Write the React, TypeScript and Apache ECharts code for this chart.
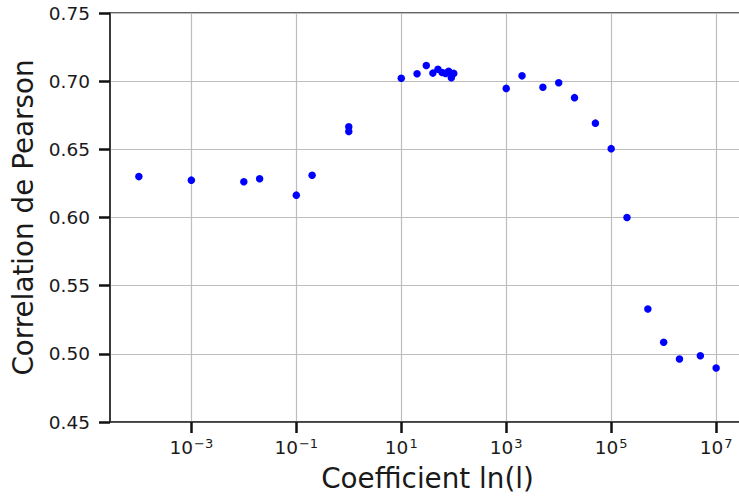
import React, { useEffect, useRef } from "react";
import * as echarts from "echarts";

// Coefficient l (x, log scale) and Pearson correlation (y)
const coefficients: number[] = [
  1e-4, 1e-3, 1e-2, 2e-2, 0.1, 0.2, 1, 1, 10, 20, 30, 40, 50, 60, 70, 80, 90, 100,
  1000, 2000, 5000, 1e4, 2e4, 5e4, 1e5, 2e5, 5e5, 1e6, 2e6, 5e6, 1e7,
];
const correlations: number[] = [
  0.63, 0.6274, 0.6262, 0.6284, 0.6164, 0.631, 0.6665, 0.6631, 0.7022, 0.7055,
  0.7115, 0.7059, 0.7088, 0.7064, 0.7057, 0.7073, 0.7025, 0.7057, 0.6947, 0.7039,
  0.6955, 0.6988, 0.6879, 0.6692, 0.6505, 0.6, 0.5329, 0.5085, 0.4962, 0.4986, 0.4896,
];
// x tick exponents (labels 10^n)
const xTickExponents: number[] = [-3, -1, 1, 3, 5, 7];
const yTicks: number[] = [0.45, 0.5, 0.55, 0.6, 0.65, 0.7, 0.75];

const FONT = "DejaVu Sans";

export default function App() {
  const ref = useRef<HTMLDivElement>(null);
  useEffect(() => {
    document.body.style.margin = "0";
    if (!ref.current) return;
    const chart = echarts.init(ref.current, null, { renderer: "svg" });
    const data = coefficients.map((c, i) => [Math.log10(c), correlations[i]]);
    chart.setOption({
      animation: false,
      grid: {
        left: 110,
        top: 13,
        right: 0,
        bottom: 71.5,
        show: true,
        borderColor: "#333",
        borderWidth: 1.6,
        backgroundColor: "transparent",
      },
      xAxis: {
        type: "value",
        min: -4.55,
        max: 7.55,
        name: "Coefficient ln(l)",
        nameLocation: "middle",
        nameGap: 42,
        nameTextStyle: { fontFamily: FONT, fontSize: 27.8, color: "#1a1a1a" },
        axisLine: { show: true, onZero: false, lineStyle: { color: "#333", width: 1.6 } },
        axisTick: {
          show: true,
          length: 11,
          customValues: xTickExponents,
          lineStyle: { color: "#111", width: 2.5 },
        },
        splitLine: { show: true, lineStyle: { color: "#bdbdbd", width: 1.2 } },
        axisLabel: {
          customValues: xTickExponents,
          margin: 15,
          formatter: (v: number) => `{b|10}{s|${String(v).replace("-", "\u2212")}}`,
          rich: {
            b: { fontFamily: FONT, fontSize: 18.5, color: "#1a1a1a" },
            s: { fontFamily: FONT, fontSize: 13, color: "#1a1a1a", verticalAlign: "top", padding: [0, 0, 8, 1] },
          },
        },
      },
      yAxis: {
        type: "value",
        min: yTicks[0],
        max: yTicks[yTicks.length - 1],
        interval: 0.05,
        name: "Correlation de Pearson",
        nameLocation: "middle",
        nameGap: 70,
        nameTextStyle: { fontFamily: FONT, fontSize: 27.8, color: "#1a1a1a" },
        axisLine: { show: true, onZero: false, lineStyle: { color: "#333", width: 1.6 } },
        axisTick: { show: true, length: 11, lineStyle: { color: "#111", width: 2.5 } },
        splitLine: { show: true, lineStyle: { color: "#bdbdbd", width: 1.2 } },
        axisLabel: {
          margin: 20,
          fontFamily: FONT,
          fontSize: 18.5,
          color: "#1a1a1a",
          formatter: (v: number) => v.toFixed(2),
        },
      },
      series: [
        {
          type: "scatter",
          data,
          symbol: "circle",
          symbolSize: 7.5,
          itemStyle: { color: "#0000ff", opacity: 1 },
        },
      ],
    });
    return () => chart.dispose();
  }, []);
  return (
    <div style={{ width: 739, height: 497, overflow: "hidden", position: "relative" }}>
      <div ref={ref} style={{ width: 745, height: 497 }} />
    </div>
  );
}
